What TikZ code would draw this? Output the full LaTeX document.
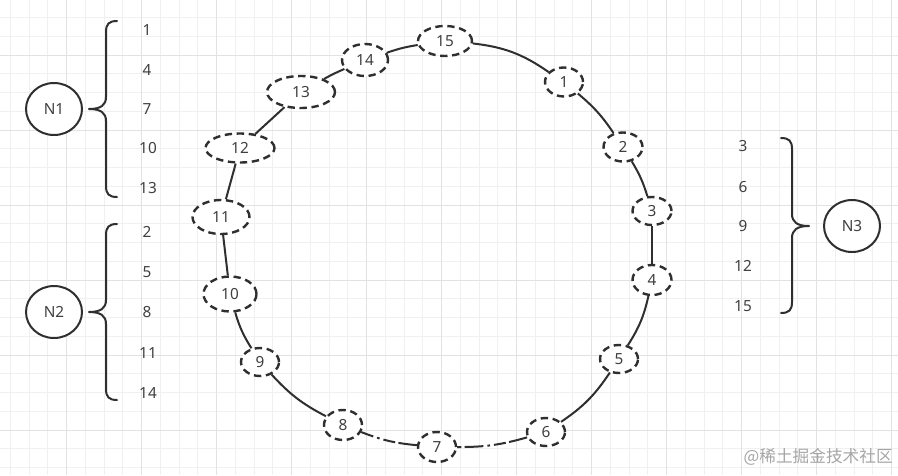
\documentclass[tikz,border=0pt]{standalone}
\usepackage{fontspec}
\setmainfont{Noto Sans}
\newfontfamily\cjkfont{Noto Sans CJK SC}
\usetikzlibrary{shapes.geometric}
\definecolor{ink}{HTML}{2F2F2F}
\definecolor{txt}{HTML}{404040}
\definecolor{gminor}{HTML}{F0F0F0}
\definecolor{gmajor}{HTML}{E2E2E2}
\begin{document}
\begin{tikzpicture}[x=0.75pt,y=-0.75pt,
  numfont/.style={font=\fontsize{11.5}{12}\selectfont},
  ring/.style={ellipse,draw=ink,line width=1.8pt,dash pattern=on 5.5pt off 3.5pt,
    fill=white,inner sep=0pt,numfont,text=txt},
  server/.style={ellipse,draw=ink,line width=1.5pt,fill=white,
    minimum width=42pt,minimum height=39pt,inner sep=0pt,numfont,text=txt},
  lbl/.style={inner sep=0pt,numfont,text=txt},
  link/.style={draw=ink,line width=1.5pt},
  brokenlink/.style={link,dash pattern=on 14pt off 2.5pt on 9pt off 3pt on 2pt off 3pt},
  bracepath/.style={draw=ink,line width=1.5pt,line join=round,line cap=round}]

% background and grid
\fill[white] (0,0) rectangle (898,475);
\begin{scope}
  \clip (0,0) rectangle (898,475);
  \foreach \k in {0,...,47} {
    \draw[gminor,line width=0.75pt] ({10.42+18.75*\k},0) -- ({10.42+18.75*\k},475);
  }
  \foreach \k in {0,...,25} {
    \draw[gminor,line width=0.75pt] (0,{17.5+18.75*\k}) -- (898,{17.5+18.75*\k});
  }
  \foreach \k in {-1,...,11} {
    \draw[gmajor,line width=0.75pt] ({66.67+75*\k},0) -- ({66.67+75*\k},475);
  }
  \foreach \k in {-1,...,5} {
    \draw[gmajor,line width=0.75pt] (0,{55+75*\k}) -- (898,{55+75*\k});
  }
\end{scope}
\useasboundingbox (0,0) rectangle (898,475);

% ring nodes
\node[ring,minimum width=40.5pt,minimum height=22.5pt]  (n15) at (445,41)  {15};
\node[ring,minimum width=28.5pt,minimum height=21.75pt] (n1)  at (564,82)  {1};
\node[ring,minimum width=29.25pt,minimum height=21.75pt](n2)  at (623,147) {2};
\node[ring,minimum width=29.25pt,minimum height=21pt]   (n3)  at (652,211) {3};
\node[ring,minimum width=29.25pt,minimum height=22.5pt] (n4)  at (652,280) {4};
\node[ring,minimum width=28.5pt,minimum height=21pt]    (n5)  at (619,359) {5};
\node[ring,minimum width=28.5pt,minimum height=21pt]    (n6)  at (546,432) {6};
\node[ring,minimum width=28.5pt,minimum height=22.5pt]  (n7)  at (437,447) {7};
\node[ring,minimum width=28.5pt,minimum height=22.5pt]  (n8)  at (343,425) {8};
\node[ring,minimum width=28.5pt,minimum height=21pt]    (n9)  at (260,362) {9};
\node[ring,minimum width=39.75pt,minimum height=26.25pt](n10) at (230,294) {10};
\node[ring,minimum width=42.75pt,minimum height=25.5pt] (n11) at (221,217) {11};
\node[ring,minimum width=51.75pt,minimum height=21.75pt](n12) at (240,148) {12};
\node[ring,minimum width=51pt,minimum height=24pt]      (n13) at (301,92)  {13};
\node[ring,minimum width=34.5pt,minimum height=24pt]    (n14) at (365,60)  {14};

% ring connectors
\draw[link] (n15) to[bend left=14] (n1);
\draw[link] (n1)  to[bend left=8]  (n2);
\draw[link] (n2)  to[bend left=7]  (n3);
\draw[link] (n3)  -- (n4);
\draw[link] (n4)  to[bend left=10] (n5);
\draw[link] (n5)  to[bend left=11] (n6);
\draw[brokenlink] (n6) to[bend left=8] (n7);
\draw[brokenlink] (n7) to[bend left=8] (n8);
\draw[link] (n8)  to[bend left=10] (n9);
\draw[link] (n9)  to[bend left=8]  (n10);
\draw[link] (n10) -- (n11);
\draw[link] (n11) -- (n12);
\draw[link] (n12) -- (n13);
\draw[link] (n13) to[bend left=3]  (n14);
\draw[link] (n14) to[bend left=5]  (n15);

% N1
\node[server] (s1) at (54,109) {N1};
\draw[bracepath] (117,21) .. controls (109,21) and (106,24) .. (106,32)
  -- (106,97) .. controls (106,105) and (101,109) .. (89,109)
  .. controls (101,109) and (106,113) .. (106,121)
  -- (106,186) .. controls (106,194) and (109,197) .. (117,197);
\node[lbl] (a1)  at (147,30)  {1};
\node[lbl] (a4)  at (147,70)  {4};
\node[lbl] (a7)  at (147,109) {7};
\node[lbl] (a10) at (148,148) {10};
\node[lbl] (a13) at (148,188) {13};

% N2
\node[server] (s2) at (54,312) {N2};
\draw[bracepath] (117,224) .. controls (109,224) and (106,227) .. (106,235)
  -- (106,300) .. controls (106,308) and (101,312) .. (89,312)
  .. controls (101,312) and (106,316) .. (106,324)
  -- (106,389) .. controls (106,397) and (109,400) .. (117,400);
\node[lbl] (b2)  at (147,232) {2};
\node[lbl] (b5)  at (147,272) {5};
\node[lbl] (b8)  at (147,312) {8};
\node[lbl] (b11) at (148,353) {11};
\node[lbl] (b14) at (148,393) {14};

% N3
\node[server] (s3) at (852,226) {N3};
\draw[bracepath] (781,138) .. controls (789,138) and (792,141) .. (792,149)
  -- (792,214) .. controls (792,222) and (797,226) .. (809,226)
  .. controls (797,226) and (792,230) .. (792,238)
  -- (792,302) .. controls (792,310) and (789,313) .. (781,313);
\node[lbl] (c3)  at (743,146) {3};
\node[lbl] (c6)  at (743,187) {6};
\node[lbl] (c9)  at (743,226) {9};
\node[lbl] (c12) at (743,266) {12};
\node[lbl] (c15) at (743,306) {15};

% watermark
\node[inner sep=0pt,anchor=east,text=black!35,font=\cjkfont\fontsize{12.5}{13}\selectfont] (wm) at (893,457) {@稀土掘金技术社区};
\end{tikzpicture}
\end{document}
